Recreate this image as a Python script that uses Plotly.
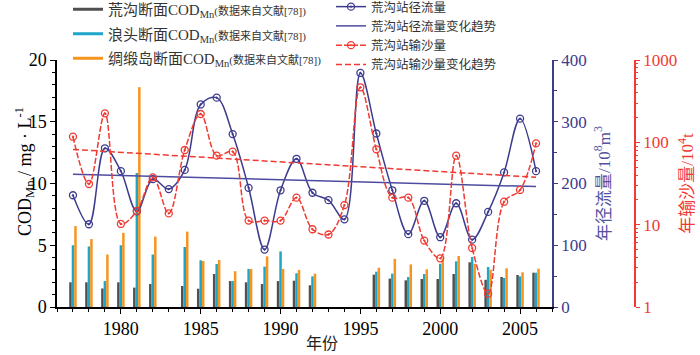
import plotly.graph_objects as go

years = list(range(1977, 2007))

# COD_Mn (mg/L) at three sections; None = no data
cod_huanggou = [2.0, 2.0, 1.5, 2.0, 1.57, 1.86, None, 1.7, 1.48, 2.67, 2.1, 2.0, 1.86, 2.1, 2.13,
                1.76, None, None, None, 2.62, 2.3, 2.16, 2.27, 2.27, 2.67, 3.62, 2.2, 2.43, 2.59, 2.78]
cod_langtou = [5.0, 4.9, 2.1, 5.0, 10.85, 4.25, None, 4.86, 3.78, 3.48, 2.1, 3.08, 3.27, 4.5, 2.73,
               2.48, None, None, None, 2.86, 2.7, 2.43, 2.67, 3.5, 3.7, 4.05, 3.24, 2.35, 2.48, 2.78]
cod_chouduan = [6.55, 5.5, 4.25, 6.0, 17.8, 5.7, None, 6.1, 3.72, 3.8, 2.9, 3.08, 4.1, 3.08, 3.0,
                2.7, None, None, None, 3.18, 3.9, 3.45, 3.05, 3.94, 4.13, 3.5, 3.02, 3.13, 2.81, 3.1]

# annual runoff (10^8 m3) and sediment load (10^4 t) at Huanggou station
runoff = [181, 134, 257, 220, 155, 207, 191, 222, 328, 339, 280, 193, 93, 189, 240,
          185, 173, 142, 379, 281, 189, 118, 172, 113, 168, 109, 154, 218, 305, 220]
sediment = [117, 31.2, 225, 10.2, 14.7, 37.6, 13.7, 80.7, 221, 68.9, 77, 11.2, 11.2, 11.2, 21.3,
            8.8, 7.6, 17.3, 466, 82.3, 21.3, 21.3, 6.4, 3.9, 68.9, 5.2, 1.45, 19.0, 26.4, 97.3]

trend_years = [1977, 2006]
runoff_trend = [215, 195]
sediment_trend = [82, 37.6]

NAVY = "#3d3b8e"
RED = "#f03a32"
GRAY = "#505050"
CYAN = "#1ea6c8"
ORANGE = "#f7941e"
SERIF = "Liberation Serif, Noto Sans CJK SC, serif"

W, H = 700, 355


def px(x):
    return x / W


def py(y):
    return 1 - y / H


fig = go.Figure()

for vals, col in [(cod_huanggou, GRAY), (cod_langtou, CYAN), (cod_chouduan, ORANGE)]:
    fig.add_trace(go.Bar(x=years, y=vals, marker=dict(color=col, line=dict(width=0)),
                         showlegend=False, xaxis="x", yaxis="y"))

small = "<span style='font-size:11px'>(数据来自文献[78])</span>"
for name, col in [("荒沟断面COD<sub>Mn</sub>" + small, GRAY),
                  ("浪头断面COD<sub>Mn</sub>" + small, CYAN),
                  ("绸缎岛断面COD<sub>Mn</sub>" + small, ORANGE)]:
    fig.add_trace(go.Scatter(x=[None], y=[None], mode="lines", name=name,
                             line=dict(color=col, width=3), legend="legend",
                             legendgroup=name))

fig.add_trace(go.Scatter(x=years, y=runoff, name="荒沟站径流量", mode="lines+markers",
                         line=dict(color=NAVY, width=1.5, shape="spline"),
                         marker=dict(symbol="circle-open-dot", size=7, color=NAVY, line=dict(width=1.3)),
                         yaxis="y2", legend="legend2"))
fig.add_trace(go.Scatter(x=trend_years, y=runoff_trend, name="荒沟站径流量变化趋势", mode="lines",
                         line=dict(color="#4e4ca0", width=1.5),
                         yaxis="y2", legend="legend2"))
fig.add_trace(go.Scatter(x=years, y=sediment, name="荒沟站输沙量", mode="lines+markers",
                         line=dict(color=RED, width=1.5, shape="spline", dash="6px,2px"),
                         marker=dict(symbol="circle-open-dot", size=7, color=RED, line=dict(width=1.3)),
                         yaxis="y3", legend="legend2"))
fig.add_trace(go.Scatter(x=trend_years, y=sediment_trend, name="荒沟站输沙量变化趋势", mode="lines",
                         line=dict(color=RED, width=1.5, dash="6px,3px"),
                         yaxis="y3", legend="legend2"))

fig.update_layout(
    width=W, height=H,
    margin=dict(l=0, r=0, t=0, b=0, autoexpand=False),
    plot_bgcolor="white", paper_bgcolor="white",
    font=dict(family=SERIF, color="black"),
    barmode="group", bargap=0.53, bargroupgap=0,
    xaxis=dict(domain=[px(57), px(552)], range=[1976, 2007], tickvals=[1980, 1985, 1990, 1995, 2000, 2005],
               ticks="outside", ticklen=5, tickcolor="black", showline=True, linecolor="black",
               linewidth=1.5, showgrid=False, zeroline=False, tickfont=dict(size=18),
               minor=dict(dtick=1, tick0=1976, ticks="outside", ticklen=3, tickcolor="black")),
    yaxis=dict(domain=[py(307), py(60)], range=[0, 20], dtick=5, ticks="outside", ticklen=5,
               tickcolor="black", showline=True, linecolor="black", linewidth=1.5, showgrid=False,
               zeroline=False, tickfont=dict(size=18),
               minor=dict(dtick=1, ticks="outside", ticklen=3, tickcolor="black")),
    yaxis2=dict(overlaying="y", side="right", anchor="x", range=[0, 400], dtick=100,
                ticks="outside", ticklen=4, tickcolor=NAVY, showline=True, linecolor=NAVY,
                linewidth=1.5, showgrid=False, zeroline=False,
                tickfont=dict(size=17, color=NAVY),
                minor=dict(dtick=50, ticks="outside", ticklen=3, tickcolor=NAVY),
                title=dict(text="年径流量/10<sup>8</sup>m<sup>3</sup>", font=dict(size=17, color="#55539f"),
                           standoff=12)),
    yaxis3=dict(overlaying="y", side="right", anchor="free", position=px(635), type="log", range=[0, 3],
                tickvals=[1, 10, 100, 1000], ticktext=["1", "10", "100", "1000"],
                ticks="outside", ticklen=4, tickcolor=RED, showline=True, linecolor=RED,
                linewidth=1.5, showgrid=False, zeroline=False,
                tickfont=dict(size=17, color=RED),
                minor=dict(tickvals=[m * d for d in (1, 10, 100) for m in range(2, 10)],
                           ticks="outside", ticklen=2, tickcolor=RED),
                title=dict(text="年输沙量/10<sup>4</sup>t", font=dict(size=17, color=RED), standoff=4)),
    legend=dict(x=px(68), y=py(-7), xanchor="left", yanchor="top", bgcolor="rgba(0,0,0,0)",
                font=dict(size=15, color="#333333"), tracegroupgap=2, itemwidth=30),
    legend2=dict(x=px(331), y=py(-8), xanchor="left", yanchor="top",
                 bgcolor="rgba(0,0,0,0)", font=dict(size=12.5, color="#333333"), tracegroupgap=0,
                 itemwidth=30),
    annotations=[
        dict(text="年份", x=px(322), y=py(343), xref="paper", yref="paper",
             showarrow=False, font=dict(size=16, color="#222222"), yanchor="middle"),
        dict(text="COD<sub>Mn</sub> / mg · L<sup>-1</sup>", x=px(24), y=py(172), xref="paper", yref="paper",
             textangle=-90, showarrow=False, font=dict(size=18), xanchor="center", yanchor="middle"),
    ],
)

fig.write_html("out.html", config={"displayModeBar": False},
               post_script="document.body.style.margin='0px';")
